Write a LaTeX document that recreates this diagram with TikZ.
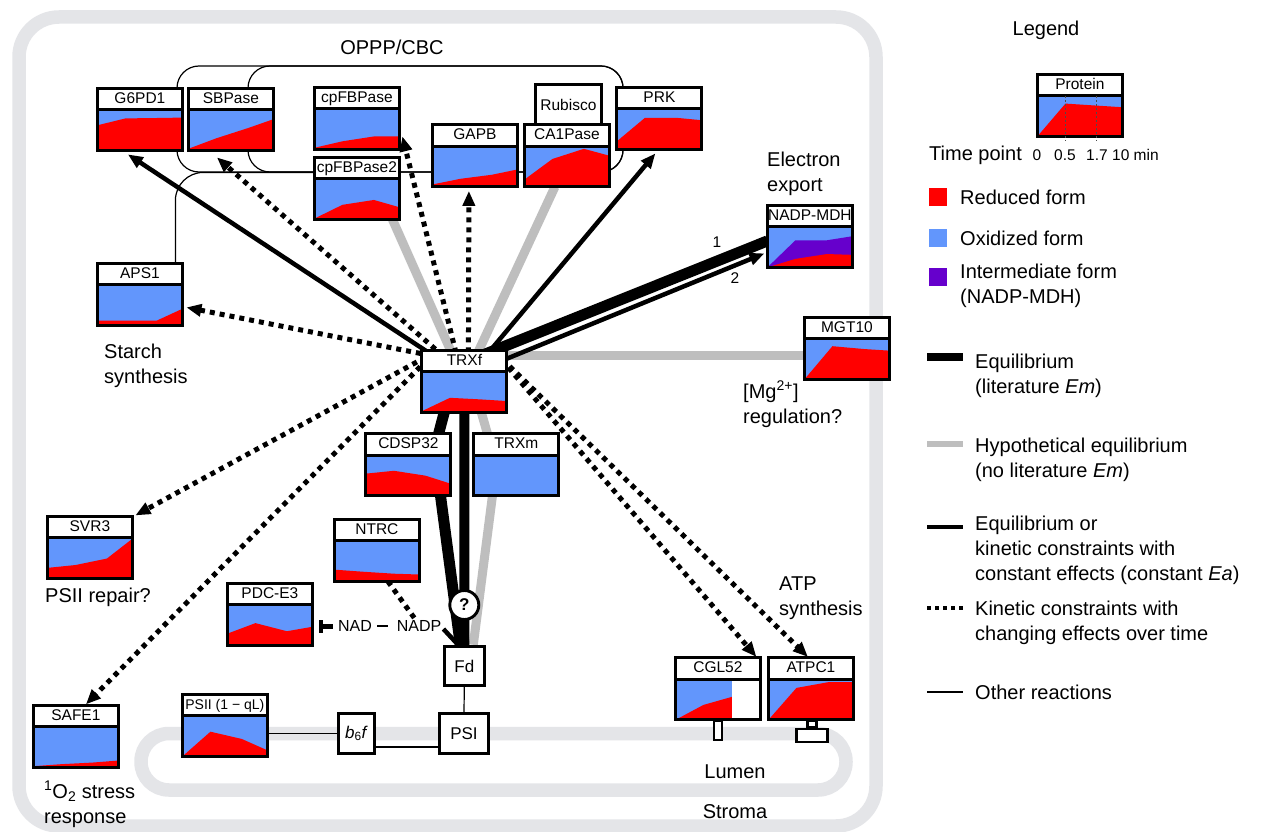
\documentclass[tikz,border=0pt]{standalone}
\usepackage{fontspec}
\setmainfont{Liberation Sans}
\usetikzlibrary{arrows.meta,positioning,calc}

\definecolor{redform}{RGB}{255,0,0}
\definecolor{oxblue}{RGB}{98,150,252}
\definecolor{interm}{RGB}{102,0,204}
\definecolor{hypogray}{RGB}{190,190,190}
\definecolor{membgray}{RGB}{228,229,232}

\pgfdeclarelayer{membrane}
\pgfdeclarelayer{links}
\pgfsetlayers{membrane,links,main}

% protein box: name, top-left corner, label, red level at 0 / 0.5 / 1.7 / 10 min, extra chart code
\newcommand{\protein}[8]{%
  \node[protframe] (#1) at (#2) {};
  \begin{scope}[shift={(#1.south west)}, x=85pt, y=40.5pt]
    \fill[oxblue] (0,0) rectangle (1,1);
    \fill[redform] (0,0) -- (0,#4) -- (.33,#5) -- (.7,#6) -- (1,#7) -- (1,0) -- cycle;
    #8
  \end{scope}
  \node[protlabel] at ([yshift=-10.75pt]#1.north) {#3};
  \draw[boxline] (#1.south west) rectangle (#1.north east);
  \draw[boxline] ([yshift=-21.5pt]#1.north west) -- ([yshift=-21.5pt]#1.north east);
}

\begin{document}
\begin{tikzpicture}[
  x=1pt, y=-1pt,
  font=\fontsize{20}{25}\selectfont,
  protframe/.style={rectangle, fill=white, minimum width=85pt, minimum height=62pt, inner sep=0pt, outer sep=0pt, anchor=north west, xshift=1.4pt, yshift=-1.4pt},
  protlabel/.style={font=\fontsize{15.5}{15.5}\selectfont, inner sep=0pt, text height=11pt, text depth=3pt},
  boxline/.style={line width=2.9pt},
  smallbox/.style={draw, line width=2.9pt, fill=white, inner sep=0pt, font=\fontsize{17}{17}\selectfont},
  stembox/.style={draw, line width=2.2pt, fill=white, inner sep=0pt, anchor=north},
  tagtext/.style={align=left, inner sep=0pt, anchor=west},
  chemtext/.style={inner sep=0pt, font=\fontsize{16}{16}\selectfont},
  ticktext/.style={inner sep=0pt, font=\fontsize{15.5}{15.5}\selectfont},
  swatch/.style={rectangle, minimum size=18pt, inner sep=0pt},
  membline/.style={line width=13.5pt, draw=membgray},
  eqline/.style={line width=11pt},
  hypoline/.style={line width=9pt, draw=hypogray},
  kinline/.style={line width=4.5pt, -{Triangle[length=15pt,width=12pt]}},
  dotline/.style={line width=5pt, dash pattern=on 5pt off 5pt},
  dotarrow/.style={dotline, -{Triangle[length=15pt,width=12pt]}},
  otherline/.style={line width=1.2pt},
  legdash/.style={line width=1pt, draw=black!70, dash pattern=on 2pt off 2pt}
]
\useasboundingbox (0,0) rectangle (1261,832);

% proteins
\protein{g6pd}{96,87}{G6PD1}{.62}{.79}{.80}{.81}{}
\protein{sbpase}{187,87}{SBPase}{.04}{.30}{.55}{.77}{}
\protein{fbpase}{313,86}{cpFBPase}{.04}{.20}{.32}{.32}{}
\protein{fbpase2}{313,156}{cpFBPase2}{.02}{.36}{.48}{.30}{}
\protein{gapb}{431,123.5}{GAPB}{.06}{.20}{.30}{.43}{}
\protein{capase}{523,123.5}{CA1Pase}{.18}{.69}{.94}{.77}{}
\protein{prk}{615.5,86}{PRK}{.20}{.78}{.78}{.72}{}
\protein{mdh}{766,204}{NADP-MDH}{0}{0}{0}{0}{%
  \fill[interm] (0,0) -- (.33,.67) -- (.7,.67) -- (1,.77) -- (1,0) -- cycle;
  \fill[redform] (0,0) -- (.33,.21) -- (.7,.33) -- (1,.31) -- (1,0) -- cycle;}
\protein{aps}{96,262}{APS1}{.12}{.12}{.12}{.41}{}
\protein{mgt}{803,316}{MGT10}{0}{.82}{.75}{.71}{}
\protein{trxf}{420.5,349}{TRXf}{.03}{.36}{.32}{.28}{}
\protein{cdsp}{364.5,432.5}{CDSP32}{.55}{.62}{.50}{.30}{}
\protein{trxm}{472.5,432.5}{TRXm}{0}{0}{0}{0}{}
\protein{svr}{46,515}{SVR3}{.26}{.33}{.49}{.98}{}
\protein{ntrc}{333,518}{NTRC}{.29}{.24}{.19}{.17}{}
\protein{pdc}{226,582}{PDC-E3}{.29}{.55}{.35}{.46}{}
\protein{safe}{32,704}{SAFE1}{.03}{.08}{.12}{.17}{}
\protein{psii}{181,693}{{\fontsize{14}{14}\selectfont PSII (1 − qL)}}{0}{.61}{.43}{.15}{}
\protein{cgl}{674,656.5}{CGL52}{0}{.37}{.59}{.70}{\fill[white] (.67,0) rectangle (1,1);}
\protein{atpc}{767,656.5}{ATPC1}{0}{.79}{.93}{.93}{}

\node[smallbox, font=\fontsize{15.5}{15.5}\selectfont, minimum width=65.5pt, minimum height=40pt, above=-1.4pt of capase, xshift=1.5pt] (rubisco) {Rubisco};

% stems in the thylakoid membrane
\node[stembox, minimum width=8pt, minimum height=19pt] (cglstem) at (cgl.south) {};
\node[stembox, minimum width=9pt, minimum height=6pt] (atpneck) at ([xshift=1pt]atpc.south) {};
\node[stembox, minimum width=31pt, minimum height=13pt] (atpfoot) at (atpneck.south) {};

% electron transport chain
\node[smallbox, minimum width=39.5pt, minimum height=39.5pt] (fd) at (464.3,666) {Fd};
\node[smallbox, minimum width=49.5pt, minimum height=40.5pt] (psi) at (464,733.5) {PSI};
\node[smallbox, minimum width=36.5pt, minimum height=40.5pt] (bsixf) at (356.5,733.5) {\textit{b}\textsubscript{6}\textit{f}};
\node[circle, draw, line width=2.9pt, fill=white, minimum size=29pt, inner sep=0pt, font=\bfseries\fontsize{17}{17}\selectfont] (query) at (464.3,605) {?};
\node[chemtext] (nad) at (355,626) {NAD};
\node[chemtext] (nadp) at (419,626) {NADP};
\coordinate (pdcbar) at ($(nad.west -| pdc.east)+(7,0)$);

% texts
\node (oppp) at (392,47) {OPPP/CBC};
\node[tagtext] (eexport) at (767,174) {Electron\\export};
\node[tagtext] (starch) at (104,366) {Starch\\synthesis};
\node[tagtext] (mgreg) at (743,404) {[Mg\textsuperscript{2+}]\\regulation?};
\node[tagtext] (repair) at (45,597) {PSII repair?};
\node[tagtext] (stress) at (44,804) {\textsuperscript{1}O\textsubscript{2} stress\\response};
\node[tagtext] (atpsyn) at (779,598) {ATP\\synthesis};
\node (lumen) at (735,772) {Lumen};
\node (stroma) at (735,812) {Stroma};
\node[ticktext] (lblone) at (717,242) {1};
\node[ticktext] (lbltwo) at (735,278) {2};

% legend
\node (legtitle) at (1046,30) {Legend};
\protein{legprot}{1036,73}{Protein}{0}{.81}{.76}{.72}{}
\begin{scope}[shift={(legprot.south west)}, x=85pt, y=40.5pt]
  \draw[legdash] (.33,1) -- (.33,-.1);
  \draw[legdash] (.7,1) -- (.7,-.1);
\end{scope}
\node[tagtext] (tpoint) at (929,155) {Time point};
\node[ticktext] (tzero) at (1037,155) {0};
\node[ticktext] (thalf) at (1065,155) {0.5};
\node[ticktext] (tmid) at (1097,155) {1.7};
\node[ticktext, anchor=west] (tend) at (1112,155) {10 min};

\node[swatch, fill=redform] (swred) at (938,197) {};
\node[tagtext] (txred) at (960,197) {Reduced form};
\node[swatch, fill=oxblue] (swblue) at (938,238) {};
\node[tagtext] (txblue) at (960,238) {Oxidized form};
\node[swatch, fill=interm] (swint) at (938,277) {};
\node[tagtext] (txint) at (960,286) {Intermediate form\\(NADP-MDH)};

\coordinate (keyeq) at (927,357);
\draw[line width=7.5pt] (keyeq) -- ++(36,0);
\node[tagtext] (txeq) at (975,376) {Equilibrium\\(literature \textit{Em})};
\coordinate (keyhypo) at (927,444);
\draw[hypoline, line width=6.5pt] (keyhypo) -- ++(36,0);
\node[tagtext] (txhypo) at (975,460) {Hypothetical equilibrium\\(no literature \textit{Em})};
\coordinate (keykin) at (927,527);
\draw[line width=4.5pt] (keykin) -- ++(36,0);
\node[tagtext] (txkin) at (975,550) {Equilibrium or\\kinetic constraints with\\constant effects (constant \textit{Ea})};
\coordinate (keydot) at (927,608);
\draw[line width=4pt, dash pattern=on 4pt off 4pt] (keydot) -- ++(36,0);
\node[tagtext] (txdot) at (975,623) {Kinetic constraints with\\changing effects over time};
\coordinate (keyother) at (927,692);
\draw[otherline] (keyother) -- ++(36,0);
\node[tagtext] (txother) at (975,692) {Other reactions};

% membranes
\begin{pgfonlayer}{membrane}
  \fill[white] (0,0) rectangle (1261,832);
  \draw[membline, rounded corners=40pt] (19,17) rectangle (876,826);
  \draw[membline, rounded corners=28pt] (141,733.5) rectangle (846,790);
\end{pgfonlayer}

% connectors
\begin{pgfonlayer}{links}
  % OPPP/CBC cycle and starch branch
  \draw[otherline, rounded corners=22pt] (177,66) rectangle (623,172);
  \draw[otherline, rounded corners=22pt] (248,66) rectangle (623,172);
  \draw[otherline, rounded corners=28pt] ([xshift=-7pt]aps.north east) |- ([shift={(0,15)}]fbpase2.north west);

  % hypothetical equilibria
  \draw[hypoline] (trxf.center) -- ([xshift=-7pt]fbpase2.south east);
  \draw[hypoline] (trxf.center) -- ([xshift=-12pt]capase.south);
  \draw[hypoline] ([yshift=26pt]trxf.center) -- ([yshift=-7pt]mgt.west);
  \draw[hypoline] ([xshift=8pt]trxf.center) -- ([xshift=-20pt]trxm.center);
  \draw[hypoline] ([xshift=-20pt]trxm.center) -- ([xshift=9pt]fd.north);

  % equilibria
  \draw[eqline] ([shift={(0,-19)}]trxf.center) -- ([yshift=-4.5pt]mdh.west);
  \draw[eqline, line width=10pt] (trxf.center) -- (fd.north);
  \draw[eqline] ([xshift=-12pt]trxf.center) -- ([xshift=22pt]cdsp.center);
  \draw[eqline] ([xshift=28pt]cdsp.center) -- ([xshift=-4pt]fd.north);

  % constant kinetic constraints
  \draw[kinline] ([shift={(-24,-21)}]trxf.center) -- ([shift={(-12,4)}]g6pd.south);
  \draw[kinline] (trxf.center) -- ([shift={(-4,4)}]prk.south);
  \draw[kinline] ([shift={(4,-7)}]trxf.center) -- ([shift={(-3,17)}]mdh.west);

  % changing kinetic constraints
  \draw[dotarrow] ([shift={(-14,-19)}]trxf.center) -- ([shift={(-14,7)}]sbpase.south);
  \draw[dotarrow] ([shift={(-6,-19)}]trxf.center) -- ([shift={(3,-13)}]fbpase.south east);
  \draw[dotarrow] ([shift={(4,-19)}]trxf.center) -- ([shift={(-6,4)}]gapb.south);
  \draw[dotarrow] ([shift={(-24,-24)}]trxf.center) -- ([shift={(4,13)}]aps.east);
  \draw[dotarrow] ([shift={(-30,-29)}]trxf.center) -- ([shift={(3,-1)}]svr.north east);
  \draw[dotarrow] ([shift={(-30,-29)}]trxf.center) -- ([shift={(10,-1)}]safe.north);
  \draw[dotarrow] ([shift={(31,-29)}]trxf.center) -- ([shift={(-4,-1)}]cgl.north east);
  \draw[dotarrow] ([shift={(31,-29)}]trxf.center) -- ([shift={(-3,-1)}]atpc.north);

  % NTRC, NADP and PDC
  \draw[dotline] ([xshift=11pt]ntrc.south) -- ([xshift=-3pt]nadp.north);
  \draw[line width=4.5pt] ([shift={(2,3)}]nadp.east) -- ([xshift=15pt]fd.north west);
  \draw[line width=1.5pt, shorten <=5pt, shorten >=9pt] (nad.east) -- (nadp.west);
  \draw[line width=5pt, shorten <=5pt, -{Bar[width=13pt, line width=3.5pt]}] (nad.west) -- (pdcbar);

  % photosynthetic electron transport
  \draw[otherline] (fd.south) -- (psi.north);
  \draw[otherline] (bsixf.west) -- (bsixf.west -| psii.east);
  \draw[otherline] ([yshift=-13.5pt]bsixf.east) -- ([yshift=-13.5pt]psi.west);
\end{pgfonlayer}
\end{tikzpicture}
\end{document}
